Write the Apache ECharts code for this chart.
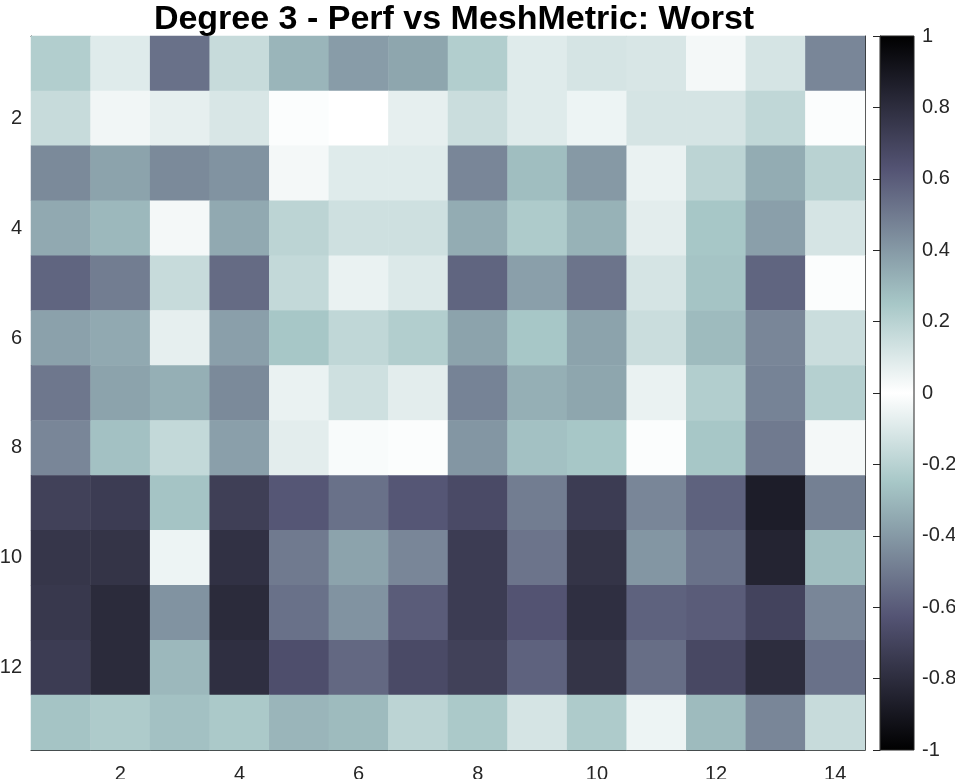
<!DOCTYPE html>
<html>
<head>
<meta charset="utf-8">
<script src="https://cdn.jsdelivr.net/npm/echarts@6/dist/echarts.min.js"></script>
<style>
  html, body { margin: 0; padding: 0; background: #fff; }
  #chart { width: 955px; height: 779px; }
</style>
</head>
<body>
<div id="chart"></div>
<script>
// column / row categories
const cols = ['1', '2', '3', '4', '5', '6', '7', '8', '9', '10', '11', '12', '13', '14']
const rows = ['1', '2', '3', '4', '5', '6', '7', '8', '9', '10', '11', '12', '13']

// cell values, one array per row (row 1 at top)
const row1 = [0.22, 0.09, 0.53, 0.16, 0.31, 0.39, 0.36, 0.22, 0.09, 0.12, 0.11, 0.03, 0.12, 0.46]
const row2 = [0.16, 0.04, 0.07, 0.11, 0.01, 0.0, 0.07, 0.15, 0.09, 0.05, 0.12, 0.12, 0.18, 0.01]
const row3 = [0.45, 0.37, 0.45, 0.42, 0.03, 0.09, 0.09, 0.46, 0.28, 0.40, 0.06, 0.19, 0.34, 0.20]
const row4 = [0.35, 0.30, 0.03, 0.35, 0.19, 0.14, 0.14, 0.34, 0.23, 0.32, 0.08, 0.25, 0.38, 0.12]
const row5 = [0.57, 0.49, 0.16, 0.55, 0.17, 0.06, 0.10, 0.57, 0.38, 0.52, 0.12, 0.26, 0.57, 0.01]
const row6 = [0.375, 0.35, 0.07, 0.38, 0.25, 0.18, 0.22, 0.37, 0.25, 0.37, 0.15, 0.29, 0.46, 0.15]
const row7 = [0.51, 0.37, 0.33, 0.45, 0.06, 0.14, 0.08, 0.47, 0.33, 0.36, 0.06, 0.22, 0.47, 0.21]
const row8 = [0.46, 0.27, 0.17, 0.38, 0.08, 0.02, 0.01, 0.41, 0.27, 0.25, 0.01, 0.25, 0.50, 0.03]
const row9 = [-0.71, -0.73, -0.26, -0.72, -0.62, -0.53, -0.62, -0.67, -0.49, -0.73, -0.46, -0.58, -0.87, -0.48]
const row10 = [-0.76, -0.77, -0.05, -0.78, -0.50, -0.37, -0.46, -0.73, -0.52, -0.77, -0.41, -0.53, -0.84, -0.28]
const row11 = [-0.75, -0.81, -0.42, -0.81, -0.53, -0.42, -0.60, -0.73, -0.63, -0.79, -0.58, -0.60, -0.70, -0.46]
const row12 = [-0.73, -0.81, -0.30, -0.79, -0.65, -0.56, -0.67, -0.71, -0.58, -0.77, -0.54, -0.68, -0.80, -0.53]
const row13 = [0.26, 0.23, 0.27, 0.24, 0.31, 0.29, 0.19, 0.24, 0.12, 0.23, 0.05, 0.29, 0.46, 0.16]
const values = [row1, row2, row3, row4, row5, row6, row7, row8, row9, row10, row11, row12, row13]

// colour scale range and colourbar ticks
const cMin = -1
const cMax = 1
const cStep = 0.2

// bone colormap folded around 0 (white at 0, black at +-1)
const boneHalf = ['#000000', '#1c1c27', '#38384d', '#545474', '#707a8f', '#8ba1ab', '#a7c7c7', '#d3e3e3', '#ffffff']
const cmap = boneHalf.concat(boneHalf.slice(0, -1).reverse())

const textColor = '#262626'
const fontFamily = '"Liberation Sans", Arial, Helvetica, sans-serif'

const data = []
values.forEach((r, ri) => {
  r.forEach((v, ci) => data.push([ci, ri, v]))
})

const evenOnly = (idx) => (idx + 1) % 2 === 0

const chart = echarts.init(document.getElementById('chart'))

chart.setOption({
  animation: false,
  backgroundColor: '#fff',
  title: {
    text: 'Degree 3 - Perf vs MeshMetric: Worst',
    left: 449,
    top: -2,
    textAlign: 'center',
    textStyle: { fontFamily, fontSize: 34, fontWeight: 'bold', color: '#000' }
  },
  grid: [
    { left: 31, top: 36, width: 834, height: 714, outerBoundsMode: 'none', containLabel: false },
    {
      left: 880, top: 36, width: 34, height: 714,
      outerBoundsMode: 'none', containLabel: false,
      show: true,
      borderColor: textColor,
      borderWidth: 1,
      backgroundColor: new echarts.graphic.LinearGradient(0, 0, 0, 1,
        cmap.map((c, i) => ({ offset: i / (cmap.length - 1), color: c })))
    }
  ],
  xAxis: [
    {
      type: 'category', gridIndex: 0, data: cols, position: 'bottom',
      axisLine: { show: true, lineStyle: { color: textColor, width: 1 } },
      axisTick: { show: true, inside: true, length: 8, alignWithLabel: true, interval: evenOnly, lineStyle: { color: textColor } },
      axisLabel: { interval: evenOnly, color: textColor, fontSize: 20, fontFamily, margin: 14 },
      splitLine: { show: false }
    },
    {
      type: 'category', gridIndex: 0, data: cols, position: 'top',
      axisLine: { show: true, lineStyle: { color: textColor, width: 1 } },
      axisTick: { show: true, inside: true, length: 8, alignWithLabel: true, interval: evenOnly, lineStyle: { color: textColor } },
      axisLabel: { show: false },
      splitLine: { show: false }
    },
    { type: 'value', gridIndex: 1, show: false }
  ],
  yAxis: [
    {
      type: 'category', gridIndex: 0, data: rows, inverse: true, position: 'left',
      axisLine: { show: true, lineStyle: { color: textColor, width: 1 } },
      axisTick: { show: true, inside: true, length: 8, alignWithLabel: true, interval: evenOnly, lineStyle: { color: textColor } },
      axisLabel: { interval: evenOnly, color: textColor, fontSize: 20, fontFamily, margin: 9 },
      splitLine: { show: false }
    },
    {
      type: 'category', gridIndex: 0, data: rows, inverse: true, position: 'right',
      axisLine: { show: true, lineStyle: { color: textColor, width: 1 } },
      axisTick: { show: true, inside: true, length: 8, alignWithLabel: true, interval: evenOnly, lineStyle: { color: textColor } },
      axisLabel: { show: false },
      splitLine: { show: false }
    },
    {
      type: 'value', gridIndex: 1, min: cMin, max: cMax, interval: cStep, position: 'right',
      axisLine: { show: true, lineStyle: { color: textColor, width: 1 } },
      axisTick: { show: true, inside: true, length: 7, lineStyle: { color: textColor } },
      axisLabel: {
        color: textColor, fontSize: 20, fontFamily, margin: 8,
        formatter: (v) => String(Math.round(v * 10) / 10)
      },
      splitLine: { show: false }
    }
  ],
  visualMap: {
    type: 'continuous',
    show: false,
    min: cMin,
    max: cMax,
    seriesIndex: 0,
    inRange: { color: cmap }
  },
  series: [
    {
      type: 'heatmap',
      xAxisIndex: 0,
      yAxisIndex: 0,
      data: data,
      itemStyle: { borderWidth: 0 },
      emphasis: { disabled: true }
    }
  ]
})
</script>
</body>
</html>
